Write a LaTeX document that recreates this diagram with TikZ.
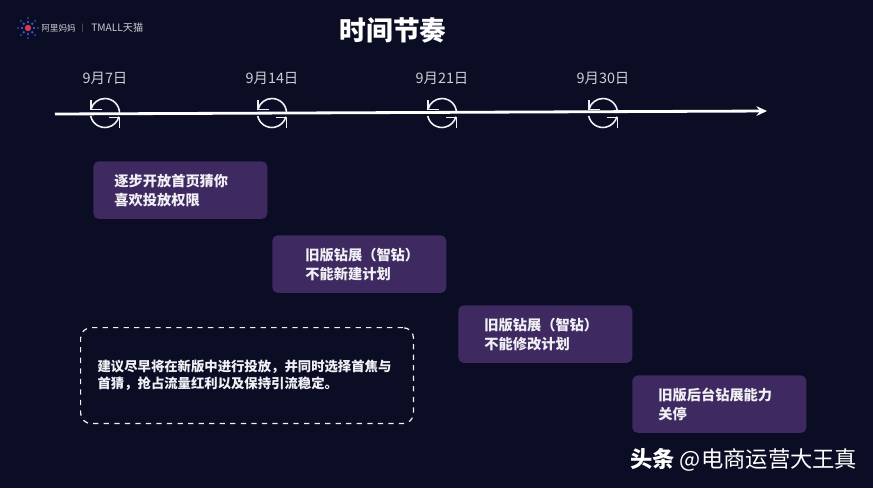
\documentclass[tikz,border=0pt]{standalone}
\usepackage{fontspec}
\setmainfont{Noto Sans CJK SC}
\definecolor{tlnavy}{RGB}{11,13,36}
\definecolor{tlpurple}{RGB}{62,42,96}
\definecolor{tlwhite}{RGB}{240,240,245}
\definecolor{tlgray}{RGB}{205,205,212}
\definecolor{tlblue}{RGB}{52,84,190}
\definecolor{tlred}{RGB}{205,60,90}
\usetikzlibrary{arrows.meta,positioning,calc}

\begin{document}
\begin{tikzpicture}[
  x=0.02cm, y=-0.02cm,
  phasebox/.style={
    rectangle, rounded corners=3pt,
    minimum width=3.48cm, minimum height=1.15cm,
    fill=tlpurple, draw=none,
    font=\fontsize{8.1}{10.8}\selectfont\bfseries,
    align=left, text=tlwhite,
    anchor=north west, text width=3.48cm,
    inner xsep=0pt
  },
  datelabel/.style={font=\fontsize{8.2}{9}\selectfont, text=tlgray},
  timeline/.style={-{Stealth[length=6pt,width=5.5pt]}, line width=1.6pt, draw=white},
  cycleicon/.pic={
    \draw[tlwhite, line width=0.9pt] (14.5,0) arc (0:-165:14.5);
    \draw[tlwhite, line width=0.9pt] (-14.3,3) arc (168:15:14.5);
    \draw[tlwhite, line width=0.9pt] (-14,-13) -- (-14,-3.5) -- (-3,-3.5);
    \draw[tlwhite, line width=0.9pt] (14.5,15) -- (14.5,4.7) -- (3.5,4.7);
  }
]
\fill[tlnavy] (0,0) rectangle (873,488);
\useasboundingbox (0,0) rectangle (873,488);

% header
\foreach \a in {0,45,...,315}{
  \fill[tlblue] (28,28) ++(\a:6) circle (1.3);
  \fill[tlblue] (28,28) ++(\a:10) circle (1);
}
\fill[tlred] (28,28) circle (3.2);
\node[font=\fontsize{4.9}{5}\selectfont, text=tlgray, anchor=west, inner sep=0] (alimama) at (41,28) {阿里妈妈};
\node[font=\fontsize{5.8}{6}\selectfont, text=tlgray, anchor=west, inner sep=0] (tmall) at (91,28) {TMALL天猫};
\node[font=\fontsize{4.4}{5}\selectfont, text=gray, inner sep=0] (sep) at (82.5,28) {|};
\node[font=\fontsize{15.2}{16}\selectfont\bfseries, text=white] (title) at (393,30) {时间节奏};

% time axis
\coordinate (tstart) at (55,114);
\coordinate (tend) at (767,111);
\pic at (105,113) {cycleicon};
\pic at (272,113) {cycleicon};
\pic at (442,113) {cycleicon};
\pic at (603,113) {cycleicon};
\draw[timeline] (tstart) -- (tend);

\node[datelabel] (d1) at (105,78.5) {9月7日};
\node[datelabel] (d2) at (272,78.5) {9月14日};
\node[datelabel] (d3) at (442,78.5) {9月21日};
\node[datelabel] (d4) at (603,78.5) {9月30日};

% phases
\node[phasebox] (p1) at (93,161)  {\hspace*{0.42cm}逐步开放首页猜你\\\hspace*{0.42cm}喜欢投放权限};
\node[phasebox] (p2) at (272,235) {\hspace*{0.66cm}旧版钻展（智钻）\\\hspace*{0.66cm}不能新建计划};
\node[phasebox] (p3) at (458,305) {\hspace*{0.52cm}旧版钻展（智钻）\\\hspace*{0.52cm}不能修改计划};
\node[phasebox] (p4) at (632,375) {\hspace*{0.52cm}旧版后台钻展能力\\\hspace*{0.52cm}关停};

% advice
\node[draw=tlwhite, dashed, line width=0.7pt, rounded corners=6pt, anchor=north west,
  minimum width=6.66cm, minimum height=1.92cm, text width=5.98cm, inner xsep=0.33cm,
  font=\fontsize{7.6}{9.8}\selectfont\bfseries, text=tlwhite, align=left] (advice) at (80,327)
  {建议尽早将在新版中进行投放，并同时选择首焦与\\首猜，抢占流量红利以及保持引流稳定。};

% watermark
\node[font=\fontsize{12.7}{14}\selectfont, text=white, anchor=west, inner sep=0] (mark) at (630,460)
  {\textbf{头条} @电商运营大王真};
\end{tikzpicture}
\end{document}
